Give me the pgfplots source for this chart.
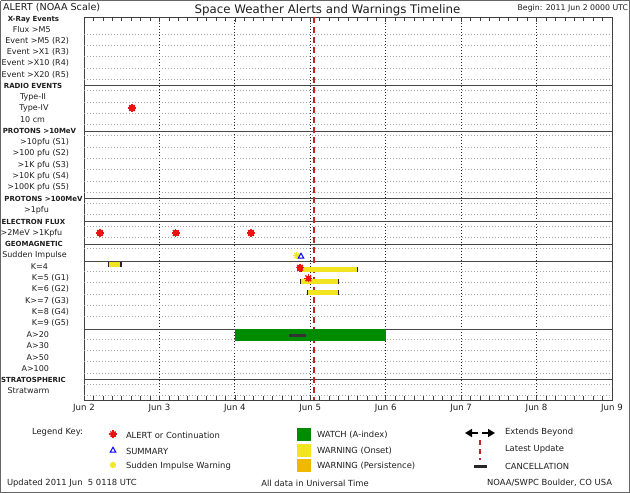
\documentclass[border=0pt]{standalone}
\usepackage{pgfplots}
\pgfplotsset{compat=1.18}
\usetikzlibrary{arrows.meta}
\usepackage{fontspec}
\setmainfont{DejaVu Sans}
\definecolor{alertred}{RGB}{235,20,20}
\definecolor{warnyel}{RGB}{242,228,30}
\definecolor{persist}{RGB}{240,184,0}
\definecolor{watchgreen}{RGB}{0,140,0}
\definecolor{siyel}{RGB}{240,232,40}
\definecolor{updred}{RGB}{195,35,35}
\definecolor{txt}{RGB}{30,30,30}
\newcommand\lab{\fontsize{8}{9.6}\selectfont}
\newcommand\hdr{\fontsize{7}{8.4}\selectfont\bfseries}
\newcommand\leg{\fontsize{8.4}{10}\selectfont}
\tikzset{t/.style={inner sep=0pt, outer sep=0pt, text=txt}}
\begin{document}
\begin{tikzpicture}
% ---------------- main timeline axis ----------------
\begin{axis}[
  at={(84pt,93pt)}, anchor=south west,
  width=528pt, height=383pt, scale only axis,
  xmin=0, xmax=7, ymin=-0.1, ymax=33.8, y dir=reverse,
  axis line style={draw=black!75, line width=0.9pt},
  xtick={0,1,2,3,4,5,6,7},
  xticklabels={Jun 2,Jun 3,Jun 4,Jun 5,Jun 6,Jun 7,Jun 8,Jun 9},
  minor x tick num=7,
  xtick pos=both, xticklabel pos=lower,
  tick align=inside,
  major tick length=5pt, minor tick length=4pt,
  every tick/.style={black!75, line width=0.6pt},
  ytick=\empty,
  xmajorgrids,
  x grid style={black!85, line width=0.8pt, dash pattern=on 1pt off 2pt},
  xticklabel style={font=\fontsize{8.6}{10}\selectfont, text=txt, yshift=-1pt},
]
% dotted row lines
\pgfplotsinvokeforeach{1.4,2.4,3.4,4.4,5.4,6.4,7.4,8.4,9.4,10.4,11.4,12.4,13.4,14.4,15.4,16.4,17.4,18.4,19.4,20.4,22.4,23.4,24.4,25.4,26.4,28.4,29.4,30.4,31.4,32.4,33.4}{
  \addplot[black!35, line width=0.45pt, dash pattern=on 1pt off 2pt] coordinates {(0,#1) (7,#1)};
}
% solid section lines
\pgfplotsinvokeforeach{6,10,16,18,20,21.57,27.52,32}{
  \addplot[black!72, line width=0.9pt] coordinates {(0,#1) (7,#1)};
}
% latest update line
\addplot[updred, line width=2pt, dash pattern=on 6pt off 4pt] coordinates {(3.054,-0.1) (3.054,33.8)};
% WATCH (A-index) bar
\addplot[fill=watchgreen, draw=none] coordinates {(2.0,27.52) (4.0,27.52) (4.0,28.58) (2.0,28.58)};
% WARNING (Onset) bars
\addplot[fill=warnyel, draw=none] coordinates {(0.32,21.6) (0.49,21.6) (0.49,22.03) (0.32,22.03)};
\addplot[fill=warnyel, draw=none] coordinates {(2.887,22.03) (3.63,22.03) (3.63,22.47) (2.887,22.47)};
\addplot[fill=warnyel, draw=none] coordinates {(2.873,23.09) (3.372,23.09) (3.372,23.54) (2.873,23.54)};
\addplot[fill=warnyel, draw=none] coordinates {(2.965,24.07) (3.372,24.07) (3.372,24.51) (2.965,24.51)};
% bar end caps
\addplot[black!85, line width=1.2pt, unbounded coords=jump] table {
x y
0.32 21.6
0.32 22.03
nan nan
0.49 21.6
0.49 22.03
nan nan
2.887 22.03
2.887 22.47
nan nan
3.63 22.03
3.63 22.47
nan nan
2.873 23.09
2.873 23.54
nan nan
3.372 23.09
3.372 23.54
nan nan
2.965 24.07
2.965 24.51
nan nan
3.372 24.07
3.372 24.51
};
% cancellation
\addplot[black!80, line width=3pt] coordinates {(2.718,28.08) (2.943,28.08)};
% sudden impulse warning + summary
\addplot[only marks, mark=x, mark size=3.6pt, siyel, line width=1.5pt] coordinates {(2.82,21.02)};
\addplot[only marks, mark=+, mark size=3.6pt, siyel, line width=1.5pt] coordinates {(2.82,21.02)};
\addplot[only marks, mark=triangle, mark size=3.2pt, blue, line width=1pt] coordinates {(2.877,21.1)};
% alerts
\addplot[only marks, mark=square*, mark size=2.3pt, alertred, line width=0pt] coordinates {
(0.637,7.96) (0.212,19.02) (1.216,19.02) (2.214,19.02) (2.864,22.09) (2.974,23.03)};
\addplot[only marks, mark=x, mark size=4pt, alertred, line width=1.3pt] coordinates {
(0.637,7.96) (0.212,19.02) (1.216,19.02) (2.214,19.02) (2.864,22.09) (2.974,23.03)};
\addplot[only marks, mark=+, mark size=4pt, alertred, line width=1.3pt] coordinates {
(0.637,7.96) (0.212,19.02) (1.216,19.02) (2.214,19.02) (2.864,22.09) (2.974,23.03)};
\end{axis}
% ---------------- overlay: labels, legend, frame ----------------
\begin{axis}[
  at={(0pt,0pt)}, anchor=south west,
  width=630pt, height=493pt, scale only axis,
  xmin=0, xmax=630, ymin=0, ymax=493, y dir=reverse,
  axis lines=none, ticks=none, clip=false,
]
\addplot[black!60, line width=1pt] coordinates {(0.5,0.5) (629.5,0.5) (629.5,492.5) (0.5,492.5) (0.5,0.5)};
% header texts
\node[t, anchor=west, font=\fontsize{9.6}{11}\selectfont] at (axis cs:3,7) {ALERT (NOAA Scale)};
\node[t, font=\fontsize{11.8}{13}\selectfont] at (axis cs:327.5,10) {Space Weather Alerts and Warnings Timeline};
\node[t, anchor=east, font=\fontsize{7.8}{9}\selectfont] at (axis cs:628,8) {Begin: 2011 Jun 2 0000 UTC};
% row labels (pixel y = 18.1 + 11.298 i)
\node[t, font=\hdr] at (axis cs:33.5,20) {X-Ray Events};
\node[t, font=\lab] at (axis cs:31.7,29.4) {Flux >M5};
\node[t, anchor=east, font=\lab] at (axis cs:69,40.7) {Event >M5 (R2)};
\node[t, anchor=east, font=\lab] at (axis cs:69,52.0) {Event >X1 (R3)};
\node[t, anchor=east, font=\lab] at (axis cs:69,63.3) {Event >X10 (R4)};
\node[t, anchor=east, font=\lab] at (axis cs:69,74.6) {Event >X20 (R5)};
\node[t, font=\hdr] at (axis cs:33,85.9) {RADIO EVENTS};
\node[t, font=\lab] at (axis cs:33,97.2) {Type-II};
\node[t, font=\lab] at (axis cs:34,108.5) {Type-IV};
\node[t, font=\lab] at (axis cs:32.5,119.8) {10 cm};
\node[t, font=\hdr] at (axis cs:39.5,131.1) {PROTONS >10MeV};
\node[t, anchor=east, font=\lab] at (axis cs:69,142.4) {>10pfu (S1)};
\node[t, anchor=east, font=\lab] at (axis cs:69,153.7) {>100 pfu (S2)};
\node[t, anchor=east, font=\lab] at (axis cs:69,165.0) {>1K pfu (S3)};
\node[t, anchor=east, font=\lab] at (axis cs:69,176.3) {>10K pfu (S4)};
\node[t, anchor=east, font=\lab] at (axis cs:69,187.6) {>100K pfu (S5)};
\node[t, font=\hdr] at (axis cs:43.5,198.9) {PROTONS >100MeV};
\node[t, font=\lab] at (axis cs:36.5,210.2) {>1pfu};
\node[t, font=\hdr] at (axis cs:33.5,221.5) {ELECTRON FLUX};
\node[t, font=\lab] at (axis cs:31.5,232.8) {>2MeV >1Kpfu};
\node[t, font=\hdr] at (axis cs:34,244.1) {GEOMAGNETIC};
\node[t, font=\lab] at (axis cs:34.5,255.4) {Sudden Impulse};
\node[t, font=\lab] at (axis cs:39.5,266.7) {K=4};
\node[t, anchor=east, font=\lab] at (axis cs:69,278.0) {K=5 (G1)};
\node[t, anchor=east, font=\lab] at (axis cs:69,289.3) {K=6 (G2)};
\node[t, anchor=east, font=\lab] at (axis cs:69,300.6) {K>=7 (G3)};
\node[t, anchor=east, font=\lab] at (axis cs:69,311.9) {K=8 (G4)};
\node[t, anchor=east, font=\lab] at (axis cs:69,323.2) {K=9 (G5)};
\node[t, anchor=east, font=\lab] at (axis cs:49,334.5) {A>20};
\node[t, anchor=east, font=\lab] at (axis cs:49,345.8) {A>30};
\node[t, anchor=east, font=\lab] at (axis cs:49,357.1) {A>50};
\node[t, anchor=east, font=\lab] at (axis cs:49,368.4) {A>100};
\node[t, font=\hdr] at (axis cs:33.5,379.7) {STRATOSPHERIC};
\node[t, font=\lab] at (axis cs:28.5,391.0) {Stratwarm};
% legend key
\node[t, anchor=west, font=\leg] at (axis cs:32,432) {Legend Key:};
\addplot[only marks, mark=square*, mark size=2pt, alertred] coordinates {(113,434)};
\addplot[only marks, mark=x, mark size=3.6pt, alertred, line width=1.2pt] coordinates {(113,434)};
\addplot[only marks, mark=+, mark size=3.6pt, alertred, line width=1.2pt] coordinates {(113,434)};
\addplot[only marks, mark=triangle, mark size=3.2pt, blue, line width=1pt] coordinates {(113,450.5)};
\addplot[only marks, mark=x, mark size=3.3pt, siyel, line width=1.4pt] coordinates {(113,465)};
\addplot[only marks, mark=+, mark size=3.3pt, siyel, line width=1.4pt] coordinates {(113,465)};
\node[t, anchor=west, font=\leg] at (axis cs:126,435) {ALERT or Continuation};
\node[t, anchor=west, font=\leg] at (axis cs:126,451) {SUMMARY};
\node[t, anchor=west, font=\leg] at (axis cs:126,466) {Sudden Impulse Warning};
\addplot[fill=watchgreen, draw=none] coordinates {(297,428) (311,428) (311,441) (297,441)};
\addplot[fill=warnyel, draw=none] coordinates {(297,444) (311,444) (311,457) (297,457)};
\addplot[fill=persist, draw=none] coordinates {(297,459) (311,459) (311,472) (297,472)};
\node[t, anchor=west, font=\leg] at (axis cs:317,435) {WATCH (A-index)};
\node[t, anchor=west, font=\leg] at (axis cs:317,451) {WARNING (Onset)};
\node[t, anchor=west, font=\leg] at (axis cs:317,466) {WARNING (Persistence)};
\addplot[black, line width=1.6pt, -{Triangle[length=7pt,width=8pt]}] coordinates {(478,433) (465,433)};
\addplot[black, line width=1.6pt, -{Triangle[length=7pt,width=8pt]}] coordinates {(482,433) (495,433)};
\addplot[updred, line width=2pt, dash pattern=on 5pt off 4pt] coordinates {(480,440) (480,460)};
\addplot[black!85, line width=3pt] coordinates {(474,466) (487,466)};
\node[t, anchor=west, font=\leg] at (axis cs:505,432) {Extends Beyond};
\node[t, anchor=west, font=\leg] at (axis cs:505,449) {Latest Update};
\node[t, anchor=west, font=\leg] at (axis cs:505,466) {CANCELLATION};
% footer
\node[t, anchor=west, font=\leg] at (axis cs:7,483) {Updated 2011 Jun\ \ 5 0118 UTC};
\node[t, font=\leg] at (axis cs:315,483) {All data in Universal Time};
\node[t, anchor=east, font=\leg] at (axis cs:612,483) {NOAA/SWPC Boulder, CO USA};
\end{axis}
\end{tikzpicture}
\end{document}
